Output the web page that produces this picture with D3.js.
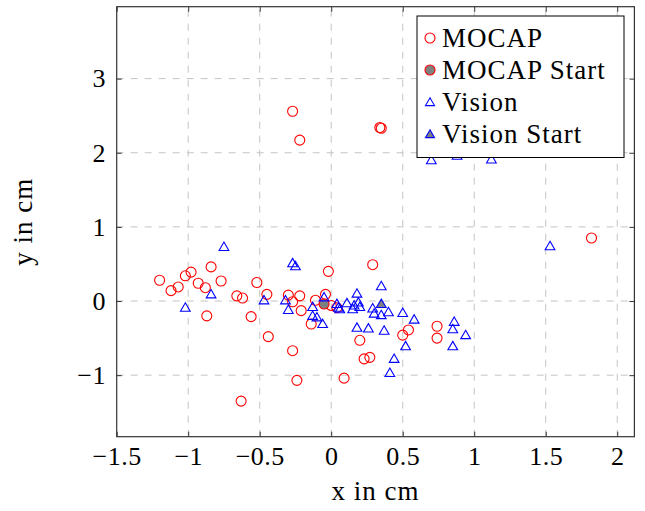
<!DOCTYPE html>
<html>
<head>
<meta charset="utf-8">
<script src="https://cdn.jsdelivr.net/npm/d3@7"></script>
<style>
  html, body { margin: 0; padding: 0; background: #fff; }
  svg { display: block; }
  text { font-family: "Liberation Serif", "DejaVu Serif", serif; fill: #000; }
</style>
</head>
<body>
<svg id="chart" width="645" height="511"></svg>
<script>
// Marker trajectories: motion capture vs. vision estimate (cm)
const mocapX = [-1.20, -1.12, -1.07, -1.02, -0.98, -0.93, -0.88, -0.84, -0.77, -0.87,
                -0.66, -0.62, -0.56, -0.52, -0.45, -0.44, -0.63, -0.30, -0.27, -0.24,
                -0.27, -0.22, -0.27, -0.22, -0.21, -0.14, -0.11, -0.04, -0.02, 0.00,
                 0.04, 0.09, 0.20, 0.23, 0.27, 0.29, 0.34, 0.35, 0.50, 0.54,
                 0.74, 0.74, 1.82];
const mocapY = [0.28, 0.14, 0.19, 0.34, 0.39, 0.24, 0.18, 0.46, 0.27, -0.20,
                0.07, 0.04, -0.21, 0.25, 0.09, -0.48, -1.35, 0.08, -0.67, -1.07,
                2.56, 2.17, -0.01, 0.07, -0.13, -0.31, 0.01, 0.09, 0.40, -0.06,
                -0.09, -1.04, -0.53, -0.78, -0.76, 0.49, 2.34, 2.33, -0.46, -0.39,
                -0.34, -0.50, 0.85];

const visionX = [-0.75, -0.84, -1.02, -0.47, -0.32, -0.30, -0.27, -0.25, -0.13, -0.13,
                 -0.10, -0.06, -0.05, 0.04, 0.05, 0.06, 0.11, 0.15, 0.16, 0.18,
                  0.19, 0.20, 0.18, 0.26, 0.29, 0.30, 0.35, 0.35, 0.40, 0.37,
                  0.50, 0.58, 0.52, 0.44, 0.41, 0.86, 0.85, 0.94, 0.85, 0.70,
                  0.88, 1.12, 1.53];
const visionY = [0.72, 0.08, -0.10, 0.00, 0.00, -0.13, 0.50, 0.46, -0.09, -0.21,
                 -0.23, -0.32, 0.04, -0.05, -0.10, -0.12, -0.04, -0.12, -0.07, 0.09,
                 -0.03, -0.09, -0.37, -0.38, -0.11, -0.18, 0.19, -0.20, -0.16, -0.41,
                 -0.17, -0.26, -0.62, -0.79, -0.98, -0.29, -0.39, -0.47, -0.62, 1.89,
                  1.95, 1.90, 0.73];

const mocapStart = [-0.05, -0.04];
const visionStart = [0.35, -0.05];

const xTicks = [-1.5, -1, -0.5, 0, 0.5, 1, 1.5, 2];
const yTicks = [-1, 0, 1, 2, 3];

const legendLabels = ["MOCAP", "MOCAP Start", "Vision", "Vision Start"];

// ---- layout ----
const svg = d3.select("#chart");
const L = 116.7, R = 634.4, T = 6.7, B = 436.7;
const x = d3.scaleLinear().domain([-1.5, 2.12]).range([L, R]);
const y = d3.scaleLinear().domain([-1.83, 3.97]).range([B, T]);

const RED = "#ff0000", BLUE = "#0000ff", GRAY = "#808080";
const fmt = d3.format("");

function triPath(r) {
  const h = 0.866 * r;
  return `M0,${-r}L${h},${r / 2}L${-h},${r / 2}Z`;
}

// grid
const grid = svg.append("g")
  .attr("stroke", "#c4c4c4").attr("stroke-width", 1)
  .attr("stroke-dasharray", "7,7");
grid.selectAll("line.gx").data(xTicks.filter(d => x(d) > L + 1)).join("line")
  .attr("x1", d => x(d)).attr("x2", d => x(d)).attr("y1", B).attr("y2", T);
grid.selectAll("line.gy").data(yTicks).join("line")
  .attr("y1", d => y(d)).attr("y2", d => y(d)).attr("x1", L).attr("x2", R);

// data marks
const plot = svg.append("g");
plot.selectAll("circle.m").data(d3.range(mocapX.length)).join("circle")
  .attr("cx", i => x(mocapX[i])).attr("cy", i => y(mocapY[i])).attr("r", 5)
  .attr("fill", "none").attr("stroke", RED).attr("stroke-width", 1.1);

plot.append("circle")
  .attr("cx", x(mocapStart[0])).attr("cy", y(mocapStart[1])).attr("r", 5)
  .attr("fill", GRAY).attr("stroke", RED).attr("stroke-width", 1.1);

plot.selectAll("path.v").data(d3.range(visionX.length)).join("path")
  .attr("transform", i => `translate(${x(visionX[i])},${y(visionY[i])})`)
  .attr("d", triPath(5.6))
  .attr("fill", "none").attr("stroke", BLUE).attr("stroke-width", 1.1);

plot.append("path")
  .attr("transform", `translate(${x(visionStart[0])},${y(visionStart[1])})`)
  .attr("d", triPath(5.6))
  .attr("fill", GRAY).attr("stroke", BLUE).attr("stroke-width", 1.1);

// axes (ticks point inward on all four sides)
const tickLen = 5;
const styleAxis = g => {
  g.select(".domain").remove();
  g.selectAll(".tick line").attr("stroke", "#333").attr("stroke-width", 1);
  g.selectAll(".tick text").style("font-size", "26px")
    .style("letter-spacing", "0.5px")
    .style("font-family", "'Liberation Serif', serif").attr("fill", "#000");
};

svg.append("g").attr("transform", `translate(0,${B})`)
  .call(d3.axisBottom(x).tickValues(xTicks).tickFormat(fmt)
    .tickSize(-tickLen).tickPadding(9.5))
  .call(styleAxis);
svg.append("g").attr("transform", `translate(0,${T})`)
  .call(d3.axisTop(x).tickValues(xTicks).tickFormat("").tickSize(-tickLen))
  .call(styleAxis);
svg.append("g").attr("transform", `translate(${L},0)`)
  .call(d3.axisLeft(y).tickValues(yTicks).tickFormat(fmt)
    .tickSize(-tickLen).tickPadding(10.7))
  .call(styleAxis);
svg.append("g").attr("transform", `translate(${R},0)`)
  .call(d3.axisRight(y).tickValues(yTicks).tickFormat("").tickSize(-tickLen))
  .call(styleAxis);

// frame
svg.append("rect")
  .attr("x", L).attr("y", T).attr("width", R - L).attr("height", B - T)
  .attr("fill", "none").attr("stroke", "#333").attr("stroke-width", 1.2);

// axis titles
svg.append("text")
  .attr("x", (L + R) / 2).attr("y", 500)
  .attr("text-anchor", "middle").style("font-size", "27px")
  .style("letter-spacing", "1px")
  .text("x in cm");
svg.append("text")
  .attr("transform", `translate(32,${(T + B) / 2}) rotate(-90)`)
  .attr("text-anchor", "middle").style("font-size", "27px")
  .style("letter-spacing", "1px")
  .text("y in cm");

// legend
const lg = svg.append("g");
lg.append("rect")
  .attr("x", 417).attr("y", 16).attr("width", 207).attr("height", 141.5)
  .attr("fill", "#fff").attr("stroke", "#000").attr("stroke-width", 1);
const rowY = d3.scalePoint().domain(legendLabels).range([38, 134]);
const markX = 430;
legendLabels.forEach((lab, k) => {
  const cy = rowY(lab);
  if (k < 2) {
    lg.append("circle").attr("cx", markX).attr("cy", cy).attr("r", 5)
      .attr("fill", k === 1 ? GRAY : "none")
      .attr("stroke", RED).attr("stroke-width", 1.1);
  } else {
    lg.append("path").attr("transform", `translate(${markX},${cy + 1})`)
      .attr("d", triPath(5.2))
      .attr("fill", k === 3 ? GRAY : "none")
      .attr("stroke", BLUE).attr("stroke-width", 1.1);
  }
  lg.append("text").attr("x", 442).attr("y", cy + 8.5)
    .style("font-size", "27px").style("letter-spacing", "1px").text(lab);
});
</script>
</body>
</html>
